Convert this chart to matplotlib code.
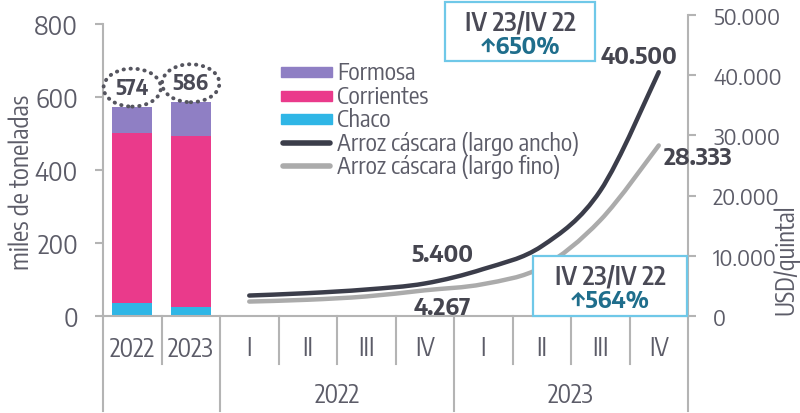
import matplotlib
matplotlib.use("Agg")
import matplotlib.pyplot as plt
from matplotlib.patches import Ellipse, Rectangle, PathPatch
from matplotlib.path import Path
from matplotlib.lines import Line2D

# datos: produccion de arroz por provincia (miles de toneladas)
campanas = ["2022", "2023"]
chaco = [36, 25]
corrientes = [465, 468]
formosa = [73, 93]
totales = [574, 586]

# precios trimestrales (USD/quintal)
trimestres = ["I", "II", "III", "IV", "I", "II", "III", "IV"]
anios = ["2022", "2023"]
largo_ancho = [3400, 3800, 4400, 5400, 7800, 11600, 20800, 40500]
largo_fino = [2400, 2700, 3250, 4267, 5300, 8100, 15900, 28333]

C_FORMOSA = "#8f7fc4"
C_CORR = "#ea3a8b"
C_CHACO = "#2fb6e6"
C_ANCHO = "#3b3d4a"
C_FINO = "#ababab"
C_TXT = "#5c5c68"
C_AXIS = "#b4b4b4"
C_BOX = "#6fc8e8"
C_PCT = "#1f6e8c"

COND = ["Encode Sans Condensed", "DejaVu Sans"]
SEMI = ["Encode Sans Semi Condensed", "DejaVu Sans"]


def px(x, y):
    """pixel de la imagen -> fraccion de figura"""
    return x / 800, 1 - y / 414


def smooth_path(xs, ys):
    """curva suavizada (tipo excel) que pasa por los puntos"""
    pts = list(zip(xs, ys))
    n = len(pts)
    verts = [pts[0]]
    codes = [Path.MOVETO]
    for i in range(n - 1):
        p0 = pts[i - 1] if i > 0 else pts[i]
        p1 = pts[i]
        p2 = pts[i + 1]
        p3 = pts[i + 2] if i + 2 < n else pts[i + 1]
        c1 = (p1[0] + (p2[0] - p0[0]) / 6, p1[1] + (p2[1] - p0[1]) / 6)
        c2 = (p2[0] - (p3[0] - p1[0]) / 6, p2[1] - (p3[1] - p1[1]) / 6)
        verts += [c1, c2, p2]
        codes += [Path.CURVE4] * 3
    return Path(verts, codes)


def miles(v):
    return f"{v:,}".replace(",", ".")


fig = plt.figure(figsize=(8, 4.14), dpi=100)
ax = fig.add_axes([103 / 800, 1 - 317 / 414, 585 / 800, 301 / 414])
ax2 = ax.twinx()

# barras apiladas
xb = [0, 1]
base2 = [a + b for a, b in zip(chaco, corrientes)]
ax.bar(xb, chaco, width=0.68, color=C_CHACO, zorder=2)
ax.bar(xb, corrientes, width=0.68, bottom=chaco, color=C_CORR, zorder=2)
ax.bar(xb, formosa, width=0.68, bottom=base2, color=C_FORMOSA, zorder=2)

for i, t in enumerate(totales):
    ax.add_patch(Ellipse((xb[i], t + 52), 0.98, 104, fill=False,
                         edgecolor="#55555f", linewidth=2.8,
                         linestyle=(0, (0.1, 1.7)), capstyle="round",
                         zorder=3, clip_on=False))
    ax.text(xb[i], t + 52, str(t), ha="center", va="center",
            fontsize=15, fontweight="bold", color="#4a4a56", family=SEMI)

ax.set_xlim(-0.5, 9.5)
ax.set_ylim(0, 825)
ax.set_yticks([0, 200, 400, 600, 800])
ax.spines["left"].set_bounds(0, 800)
for s in ["top", "right"]:
    ax.spines[s].set_visible(False)
ax.spines["left"].set_color(C_AXIS)
ax.spines["bottom"].set_color(C_AXIS)
ax.spines["left"].set_linewidth(1.5)
ax.spines["bottom"].set_linewidth(1.5)
ax.tick_params(axis="y", colors=C_AXIS, labelcolor=C_TXT, labelsize=18,
               length=6, width=1.5, pad=12)
for lb in ax.get_yticklabels():
    lb.set_family(SEMI)
ax.set_xticks([])
fig.text(*px(22, 182), "miles de toneladas", rotation=90, ha="center",
         va="center", fontsize=18, color=C_TXT, family=COND)

# lineas de precios
xq = list(range(2, 10))
ax2.add_patch(PathPatch(smooth_path(xq, largo_ancho), fill=False,
                        edgecolor=C_ANCHO, linewidth=3.2, capstyle="round",
                        zorder=3))
ax2.add_patch(PathPatch(smooth_path(xq, largo_fino), fill=False,
                        edgecolor=C_FINO, linewidth=3.2, capstyle="round",
                        zorder=2))
ax2.set_ylim(0, 50000)
ax2.set_yticks(range(0, 50001, 10000))
ax2.set_yticklabels([miles(v) for v in range(0, 50001, 10000)], family=SEMI)
for s in ["top", "left", "bottom"]:
    ax2.spines[s].set_visible(False)
ax2.spines["right"].set_color(C_AXIS)
ax2.spines["right"].set_linewidth(1.5)
ax2.tick_params(axis="y", colors=C_AXIS, labelcolor=C_TXT, labelsize=16,
                length=6, width=1.5, pad=12)
fig.text(*px(786, 260), "USD/quintal", rotation=90, ha="center",
         va="center", fontsize=17.5, color=C_TXT, family=COND)

# etiquetas de valores
lab = dict(fontsize=17, fontweight="bold", color="#45454f", family=SEMI,
           ha="center", va="center")
ax2.annotate(miles(largo_ancho[3]), (5, largo_ancho[3]),
             xytext=(13, 21), textcoords="offset points", **lab)
ax2.annotate(miles(largo_fino[3]), (5, largo_fino[3]),
             xytext=(13, -12), textcoords="offset points", **lab)
ax2.annotate(miles(largo_ancho[7]), (9, largo_ancho[7]),
             xytext=(-14, 12), textcoords="offset points", **lab)
ax2.annotate(miles(largo_fino[7]), (9, largo_fino[7]),
             xytext=(28, -8), textcoords="offset points", **lab)

# cuadros de variacion interanual
pct_ancho = round((largo_ancho[7] / largo_ancho[3] - 1) * 100)
pct_fino = round((largo_fino[7] / largo_fino[3] - 1) * 100)
for (x0, y0, x1, y1), pct in [((445, 3, 595, 62), pct_ancho),
                              ((533, 257, 687, 317), pct_fino)]:
    fx0, fy1 = px(x0, y1)
    fx1, fy0 = px(x1, y0)
    fig.patches.append(Rectangle((fx0, fy1), fx1 - fx0, fy0 - fy1,
                                 transform=fig.transFigure, fill=True,
                                 facecolor="white", edgecolor=C_BOX,
                                 linewidth=1.6, zorder=5))
    cx = (x0 + x1) / 2
    fig.text(*px(cx, y0 + 28), "IV 23/IV 22", ha="center", va="baseline",
             fontsize=17.5, fontweight="semibold", color="#4a4a56",
             family=SEMI, zorder=6)
    fig.text(*px(cx, y0 + 51), f"\u2191{pct}%", ha="center", va="baseline",
             fontsize=17, fontweight="bold", color=C_PCT, family=SEMI,
             zorder=6)

# eje x tipo tabla
tr = ax.get_xaxis_transform()
largos = [-0.5, 1.5, 5.5, 9.5]
cortos = [0.5, 2.5, 3.5, 4.5, 6.5, 7.5, 8.5]
for xv in largos:
    ax.plot([xv, xv], [0, -0.315], transform=tr, color=C_AXIS, lw=1.5,
            clip_on=False)
for xv in cortos:
    ax.plot([xv, xv], [0, -0.16], transform=tr, color=C_AXIS, lw=1.5,
            clip_on=False)
for i, c in enumerate(campanas):
    ax.text(xb[i], -0.11, c, transform=tr, ha="center", va="center",
            fontsize=18, color=C_TXT, family=COND)
for i, q in enumerate(trimestres):
    ax.text(xq[i], -0.105, q, transform=tr, ha="center", va="center",
            fontsize=18, color=C_TXT, family=COND)
for j, a in enumerate(anios):
    ax.text(3.5 + 4 * j, -0.26, a, transform=tr, ha="center", va="center",
            fontsize=18, color=C_TXT, family=COND)

# leyenda (armada a mano para copiar el espaciado)
labels = ["Formosa", "Corrientes", "Chaco", "Arroz c\u00e1scara (largo ancho)",
          "Arroz c\u00e1scara (largo fino)"]
colores = [C_FORMOSA, C_CORR, C_CHACO, C_ANCHO, C_FINO]
filas = [73, 97, 120, 144, 167]
for k, (lb, col, yy) in enumerate(zip(labels, colores, filas)):
    if k < 3:
        fx, fy = px(281, yy + 5)
        fig.patches.append(Rectangle((fx, fy), 51 / 800, 10 / 414,
                                     transform=fig.transFigure, color=col))
    else:
        fig.lines.append(Line2D([283 / 800, 330 / 800],
                                [1 - yy / 414, 1 - yy / 414],
                                transform=fig.transFigure, color=col, lw=4,
                                solid_capstyle="round"))
    fig.text(*px(337, yy), lb, ha="left", va="center", fontsize=17,
             color=C_TXT, family=COND)

fig.savefig("out.png", dpi=100)
